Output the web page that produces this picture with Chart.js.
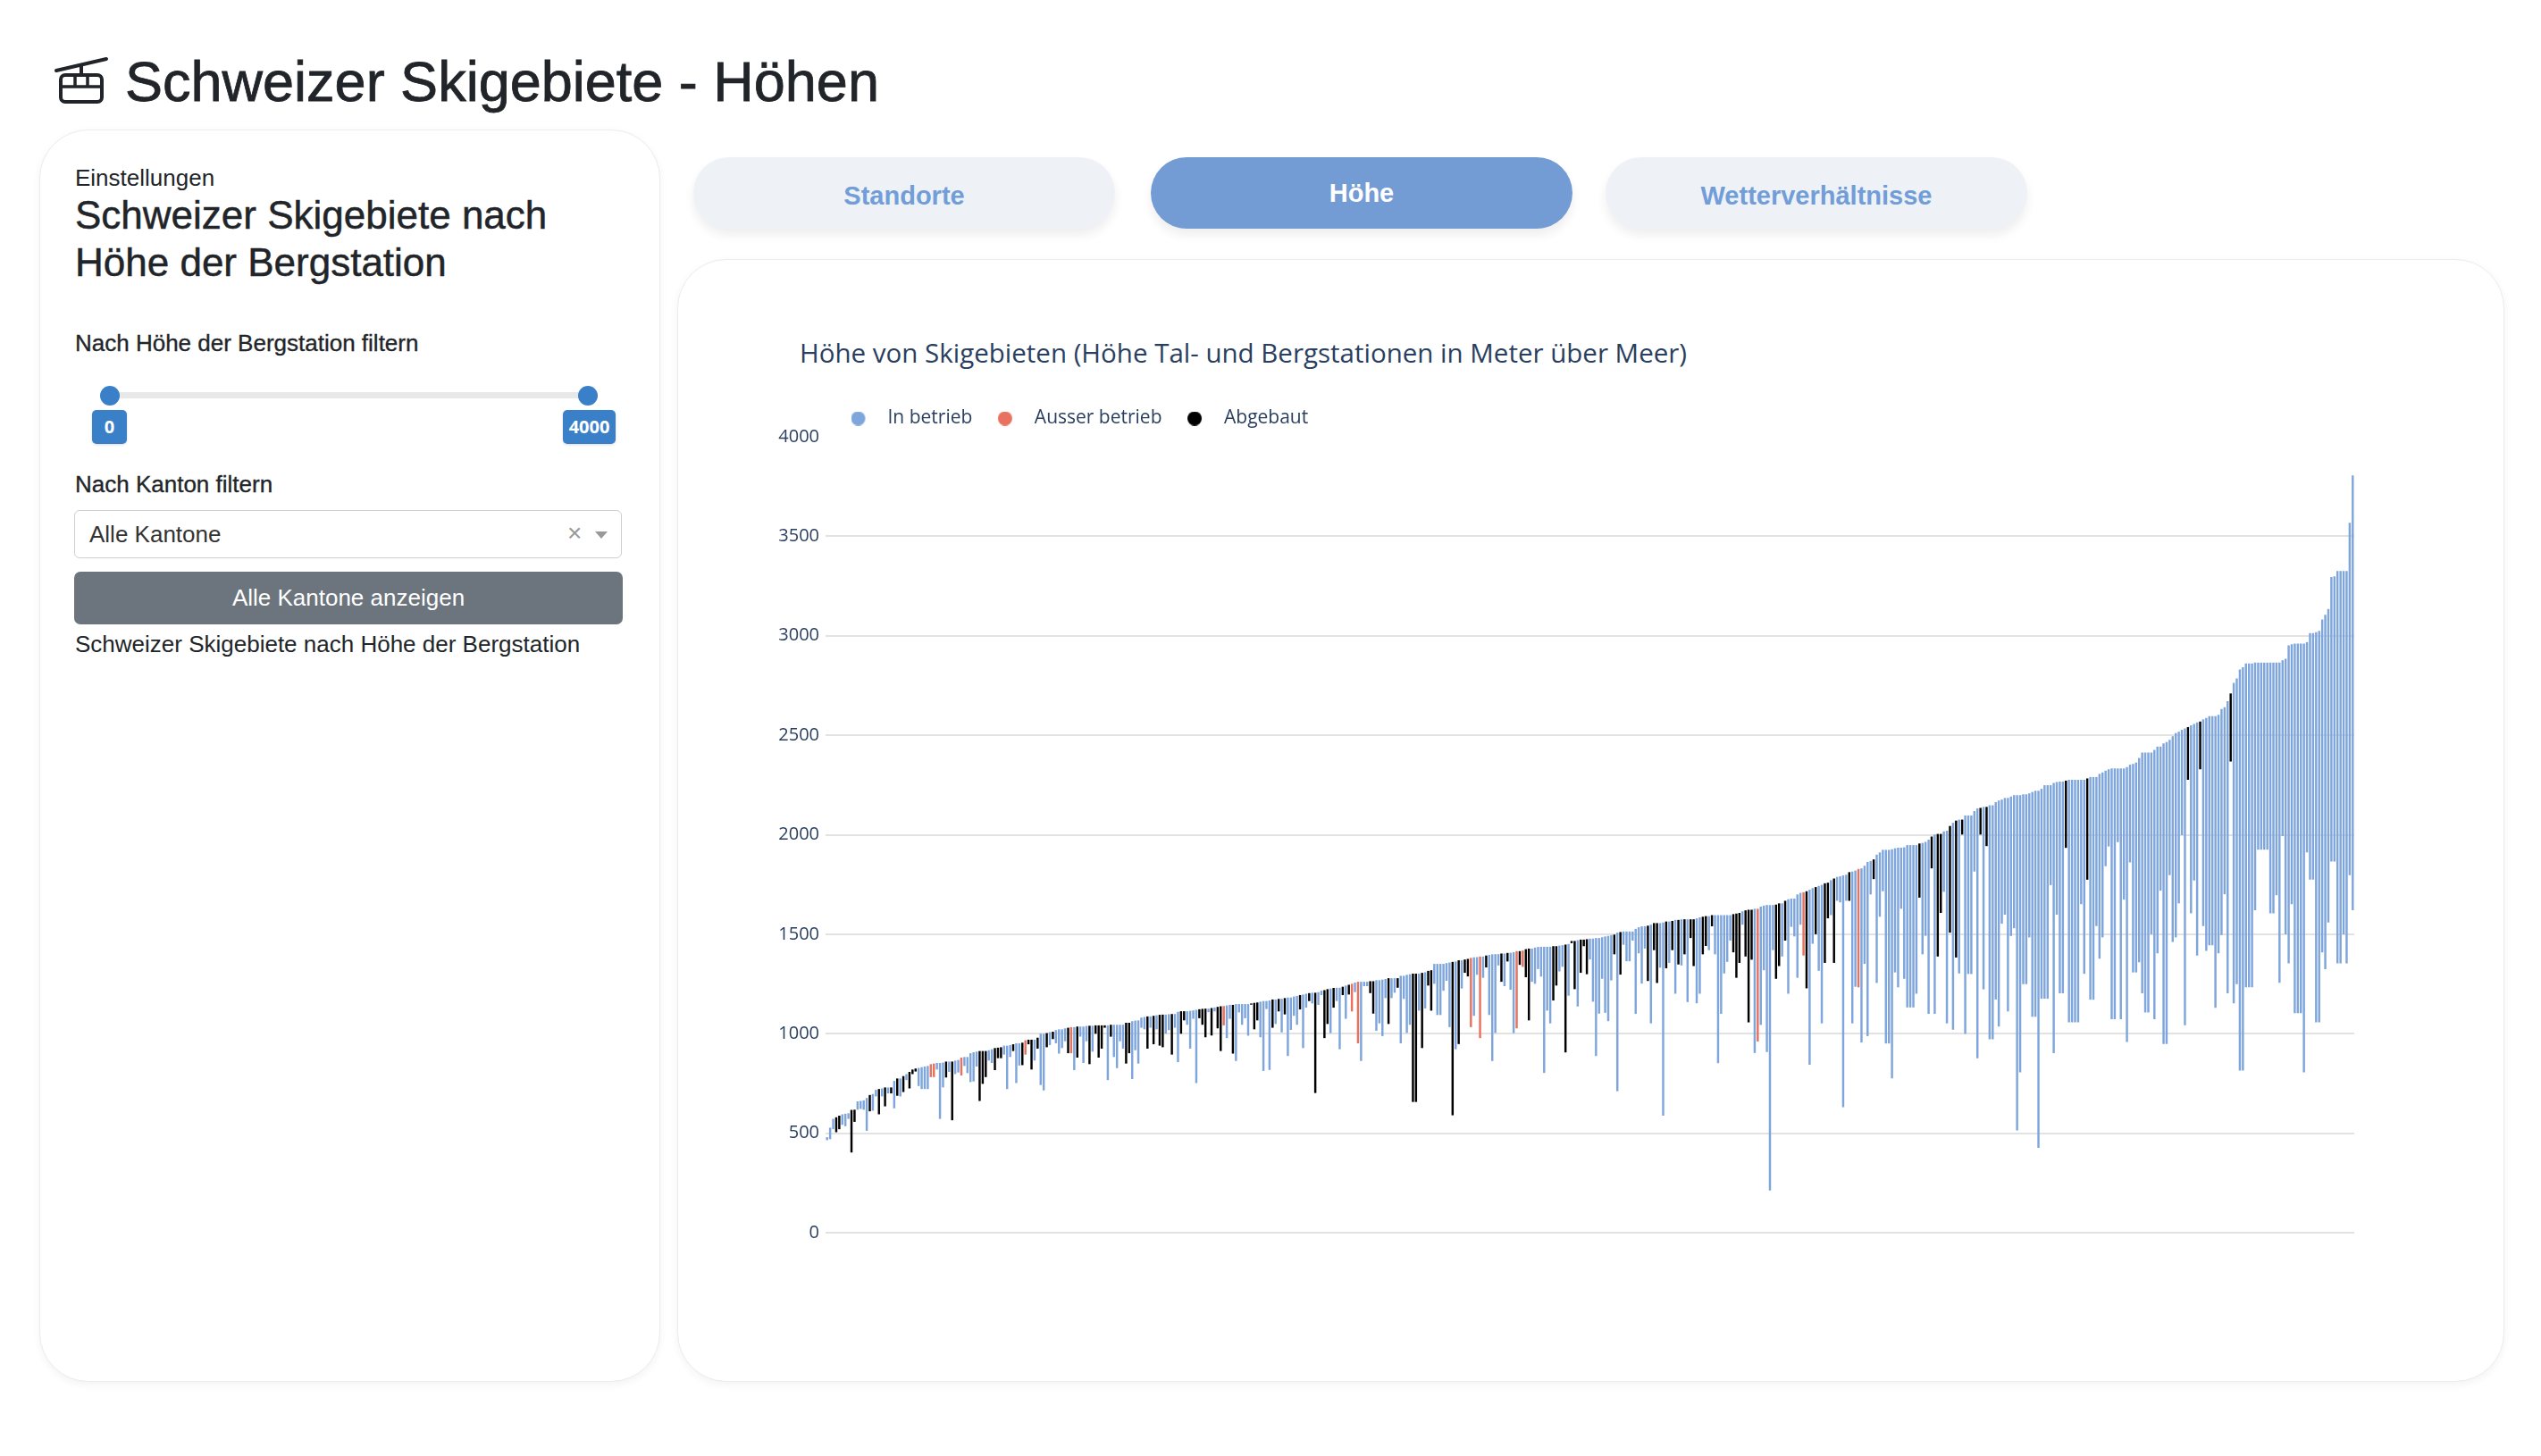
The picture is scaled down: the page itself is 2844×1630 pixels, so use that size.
<!DOCTYPE html>
<html lang="de">
<head>
<meta charset="utf-8">
<title>Schweizer Skigebiete - Höhen</title>
<script src="https://cdn.jsdelivr.net/npm/chart.js@4.4.1/dist/chart.umd.min.js"></script>
<style>
  html, body { margin: 0; padding: 0; background: #fff; }
  body {
    width: 2844px; height: 1630px; position: relative; overflow: hidden;
    font-family: "Liberation Sans", Arial, Helvetica, sans-serif; color: #212529;
  }
  .abs { position: absolute; white-space: nowrap; }
  .card {
    position: absolute; box-sizing: border-box; background: #fff; border: 1.5px solid #ececec;
    border-radius: 55px; box-shadow: 0 3px 10px rgba(0, 0, 0, 0.05);
  }
  .tab {
    position: absolute; top: 176px; width: 472px; height: 80px; border-radius: 40px;
    background: #eef2f6; color: #719dd8; font-weight: bold; font-size: 29px;
    text-align: center; line-height: 87px; box-shadow: 0 7px 12px rgba(0, 0, 0, 0.07);
  }
  .tab.active { background: #749cd4; color: #fff; line-height: 80px; }
  .label { font-size: 26px; line-height: 26px; }
  .medium { -webkit-text-stroke: 0.35px #212529; }
  .knob { position: absolute; width: 22px; height: 22px; border-radius: 50%; background: #3a80c9; top: 432px; }
  .badge {
    position: absolute; top: 459px; height: 38px; border-radius: 5px; background: #3a80c9;
    color: #fff; font: bold 20px "Open Sans", sans-serif; line-height: 38px; text-align: center;
    box-shadow: 0 1px 3px rgba(0, 0, 0, 0.15);
  }
  #chartTitle { font-family: "Open Sans", sans-serif; font-size: 29.5px; line-height: 32px; color: #2a3f5f; }
</style>
</head>
<body>

<svg class="abs" style="left:60px; top:62px;" width="62" height="56" viewBox="0 0 62 56">
  <line x1="3" y1="17" x2="59" y2="4" stroke="#212529" stroke-width="4" stroke-linecap="round"/>
  <line x1="31" y1="11" x2="31" y2="22" stroke="#212529" stroke-width="4"/>
  <rect x="8" y="22" width="46" height="30" rx="5" fill="none" stroke="#212529" stroke-width="4"/>
  <line x1="8" y1="35" x2="54" y2="35" stroke="#212529" stroke-width="3.5"/>
  <line x1="24" y1="22" x2="24" y2="35" stroke="#212529" stroke-width="3.5"/>
  <line x1="38" y1="22" x2="38" y2="35" stroke="#212529" stroke-width="3.5"/>
</svg>
<div class="abs" style="left:140px; top:60px; font-size:63px; line-height:63px; -webkit-text-stroke:0.8px #212529;">Schweizer Skigebiete - Höhen</div>

<!-- Einstellungen -->
<div class="card" style="left:44px; top:145px; width:695px; height:1402px;"></div>
<div class="abs label" style="left:84px; top:186px;">Einstellungen</div>
<div class="abs" style="left:84px; top:214px; font-size:44px; line-height:53px; -webkit-text-stroke:0.5px #212529;">Schweizer Skigebiete nach<br>Höhe der Bergstation</div>
<div class="abs label medium" style="left:84px; top:371px;">Nach Höhe der Bergstation filtern</div>
<div class="abs" style="left:123px; top:439px; width:535px; height:7px; background:#e8e8e8; border-radius:3px;"></div>
<div class="knob" style="left:112px;"></div>
<div class="knob" style="left:647px;"></div>
<div class="badge" style="left:103px; width:39px;">0</div>
<div class="badge" style="left:630px; width:59px;">4000</div>
<div class="abs label medium" style="left:84px; top:529px;">Nach Kanton filtern</div>
<div class="abs" style="left:83px; top:571px; width:611px; height:52px; border:1.5px solid #cfcfcf; border-radius:6px;"></div>
<div class="abs" style="left:100px; top:585px; font-size:26px; line-height:26px; color:#333;">Alle Kantone</div>
<div class="abs" style="left:635px; top:583px; font-size:28px; line-height:28px; color:#999;">×</div>
<div class="abs" style="left:666px; top:595px; width:0; height:0; border-left:7px solid transparent; border-right:7px solid transparent; border-top:8px solid #999;"></div>
<div class="abs" style="left:83px; top:640px; width:614px; height:59px; background:#6c757d; border-radius:7px; color:#fff; font-size:26px; line-height:59px; text-align:center;">Alle Kantone anzeigen</div>
<div class="abs label" style="left:84px; top:708px;">Schweizer Skigebiete nach Höhe der Bergstation</div>

<!-- Tabs -->
<div class="tab" style="left:776px;">Standorte</div>
<div class="tab active" style="left:1288px;">Höhe</div>
<div class="tab" style="left:1797px;">Wetterverhältnisse</div>

<!-- Diagramm -->
<div class="card" style="left:758px; top:290px; width:2045px; height:1257px;"></div>
<div id="chartTitle" class="abs" style="left:895px; top:379px;">Höhe von Skigebieten (Höhe Tal- und Bergstationen in Meter über Meer)</div>
<div class="abs" style="left:840px; top:420px; width:1795px; height:979px;">
  <canvas id="hoehenChart"></canvas>
</div>

<script>
// Bergstation (m ü. M.), aufsteigend sortiert
const bergstation = [
  480, 528, 572, 580, 588, 595, 598, 600, 617, 618,
  660, 662, 665, 677, 692, 697, 718, 722, 725, 730,
  730, 730, 763, 775, 775, 787, 797, 808, 820, 825,
  828, 832, 835, 838, 847, 850, 853, 853, 855, 860,
  860, 860, 865, 868, 880, 883, 883, 902, 907, 910,
  913, 913, 913, 917, 922, 928, 930, 932, 940, 940,
  943, 947, 952, 952, 955, 967, 970, 970, 970, 980,
  1000, 1000, 1003, 1008, 1010, 1018, 1022, 1022, 1027, 1030,
  1033, 1033, 1036, 1036, 1036, 1039, 1040, 1040, 1042, 1042,
  1042, 1042, 1042, 1045, 1045, 1045, 1045, 1045, 1055, 1055,
  1063, 1066, 1067, 1081, 1084, 1087, 1087, 1090, 1093, 1095,
  1096, 1096, 1098, 1099, 1099, 1110, 1113, 1113, 1113, 1115,
  1117, 1120, 1123, 1125, 1126, 1126, 1129, 1132, 1135, 1138,

  1139, 1142, 1145, 1145, 1149, 1149, 1149, 1149, 1149, 1152,
  1155, 1157, 1161, 1164, 1164, 1167, 1172, 1172, 1175, 1176,
  1179, 1182, 1182, 1187, 1190, 1194, 1197, 1201, 1204, 1206,
  1206, 1209, 1216, 1219, 1224, 1227, 1230, 1231, 1231, 1236,
  1242, 1246, 1251, 1257, 1261, 1261, 1261, 1261, 1264, 1264,
  1269, 1269, 1272, 1275, 1279, 1279, 1279, 1279, 1291, 1291,
  1296, 1299, 1302, 1302, 1302, 1306, 1309, 1316, 1319, 1351,
  1351, 1351, 1351, 1355, 1358, 1361, 1363, 1369, 1369, 1373,
  1376, 1381, 1384, 1385, 1388, 1388, 1393, 1396, 1399, 1400,
  1400, 1403, 1403, 1406, 1407, 1410, 1415, 1415, 1418, 1425,
  1428, 1428, 1433, 1436, 1437, 1437, 1437, 1437, 1440, 1440,
  1443, 1445, 1448, 1451, 1466, 1466, 1470, 1473, 1473, 1475,
  1478, 1478, 1481, 1481, 1485,

  1489, 1492, 1495, 1498, 1508, 1511, 1514, 1514, 1514, 1514,
  1527, 1535, 1540, 1540, 1543, 1548, 1556, 1556, 1556, 1559,
  1564, 1564, 1567, 1572, 1572, 1575, 1575, 1575, 1575, 1575,
  1580, 1585, 1588, 1591, 1591, 1596, 1596, 1596, 1596, 1596,
  1596, 1596, 1601, 1604, 1607, 1615, 1620, 1623, 1623, 1628,
  1628, 1639, 1644, 1647, 1647, 1647, 1649, 1655, 1655, 1668,
  1676, 1679, 1679, 1700, 1708, 1711, 1716, 1724, 1732, 1737,
  1743, 1748, 1756, 1759, 1772, 1780, 1788, 1791, 1796, 1799,
  1812, 1815, 1820, 1828, 1831, 1844, 1863, 1868, 1876, 1900,
  1911, 1924, 1924, 1924, 1927, 1932, 1935, 1935, 1937, 1948,
  1948, 1948, 1948, 1956, 1959, 1964, 1975, 1991, 2001, 2004,
  2004, 2017, 2020, 2044, 2060, 2071, 2076, 2076, 2097, 2097,
  2097, 2119, 2132, 2135, 2140, 2140, 2148, 2148, 2164, 2172, 2177,

  2185, 2185, 2192, 2199, 2199, 2199, 2203, 2203, 2208, 2215,
  2221, 2221, 2231, 2249, 2249, 2249, 2260, 2265, 2267, 2267,
  2272, 2276, 2276, 2276, 2276, 2276, 2276, 2283, 2290, 2290,
  2290, 2306, 2313, 2322, 2329, 2333, 2333, 2333, 2333, 2333,
  2340, 2352, 2356, 2363, 2386, 2413, 2413, 2413, 2413, 2427,
  2443, 2443, 2459, 2466, 2477, 2495, 2511, 2518, 2527, 2534,
  2541, 2550, 2557, 2564, 2569, 2580, 2587, 2596, 2596, 2596,
  2603, 2632, 2641, 2671, 2710, 2763, 2786, 2831, 2842, 2861,
  2861, 2861, 2865, 2865, 2865, 2865, 2865, 2865, 2865, 2865,
  2865, 2877, 2884, 2952, 2957, 2961, 2961, 2961, 2961, 2968,
  3014, 3014, 3018, 3025, 3082, 3105, 3135, 3295, 3299, 3326,
  3326, 3326, 3326, 3568, 3806
];

// Talstation (m ü. M.), gleiche Reihenfolge
const talstation = [
  465, 470, 520, 505, 520, 542, 535, 572, 403, 557,
  618, 622, 618, 512, 610, 613, 685, 595, 685, 635,
  700, 700, 625, 688, 685, 707, 767, 725, 797, 810,
  737, 722, 722, 722, 782, 782, 820, 572, 730, 780,
  808, 565, 797, 805, 790, 838, 802, 757, 760, 835,
  662, 748, 782, 865, 853, 817, 877, 877, 895, 722,
  883, 913, 752, 840, 842, 895, 947, 820, 865, 925,
  742, 715, 932, 943, 973, 952, 900, 928, 962, 902,
  902, 817, 880, 985, 853, 962, 847, 910, 1000, 880,
  925, 1030, 767, 985, 883, 827, 962, 925, 850, 902,
  772, 917, 850, 1030, 1022, 925, 1030, 947, 1022, 940,
  932, 1000, 1018, 895, 1030, 857, 1000, 1067, 1045, 925,
  1075, 752, 1078, 1045, 982, 1108, 991, 1112, 1027, 913,

  1042, 978, 1075, 900, 863, 1107, 1045, 1078, 990, 1146,
  1022, 1067, 982, 813, 1124, 818, 1030, 1049, 1112, 1007,
  1097, 888, 1019, 1090, 1045, 1122, 928, 1131, 1164, 1152,
  702, 1145, 1194, 978, 1049, 1003, 1131, 1164, 922, 1194,
  1075, 1197, 1112, 1209, 952, 863, 1239, 1239, 1204, 1101,
  1015, 1052, 988, 1179, 1049, 1179, 1206, 1231, 952, 1175,
  1004, 1045, 657, 657, 1116, 928, 1127, 1242, 1116, 1251,
  1094, 1094, 1216, 1266, 1033, 590, 922, 948, 1227, 1306,
  1288, 1033, 1090, 1296, 978, 1281, 1333, 1094, 863, 1004,
  1343, 1261, 1239, 1363, 1221, 1003, 1027, 1346, 1336, 1284,
  1067, 1261, 1251, 1325, 1287, 803, 1116, 1052, 1167, 1242,
  1313, 1336, 906, 1191, 1455, 1224, 1137, 1306, 1440, 1299,
  1373, 1161, 888, 1101, 1276,

  1105, 1063, 1268, 1399, 711, 1297, 1447, 1364, 1364, 1468,
  1100, 1404, 1252, 1428, 1265, 1052, 1420, 1255, 1332, 588,
  1329, 1356, 1420, 1201, 1348, 1343, 1399, 1159, 1481, 1340,
  1153, 1201, 1399, 1441, 1420, 1540, 1399, 852, 1100, 1303,
  1361, 1468, 1409, 1281, 1356, 1548, 1388, 1057, 1372, 903,
  961, 1044, 1319, 908, 212, 1420, 1276, 1340, 1388, 1468,
  1201, 1537, 1489, 1281, 1548, 1393, 1228, 844, 1452, 1500,
  1316, 1052, 1356, 1580, 1596, 1356, 1668, 1660, 631, 1668,
  1668, 1052, 1236, 1233, 956, 1351, 988, 1700, 1777, 1255,
  1588, 1716, 951, 951, 775, 1308, 1233, 1628, 1276, 1132,
  1132, 1132, 1201, 1684, 1399, 1492, 1100, 1831, 1100, 1388,
  1607, 1713, 1052, 1508, 1020, 1383, 1303, 2001, 999, 1300,
  1300, 1815, 876, 2001, 1223, 1943, 972, 972, 1172, 1036, 1553,

  1598, 1112, 1491, 1530, 514, 806, 1249, 1249, 1484, 1085,
  1085, 427, 1176, 1176, 1176, 1747, 902, 1598, 1203, 1203,
  1934, 1057, 1057, 1057, 1057, 1651, 1301, 1774, 1171, 1171,
  1541, 1377, 1484, 1842, 1941, 1073, 1073, 1963, 1073, 1674,
  959, 1861, 1308, 1308, 1359, 1203, 1107, 1107, 1500, 1073,
  1404, 1719, 948, 948, 1797, 1461, 1484, 1655, 1998, 1043,
  2276, 1605, 1770, 1393, 2329, 1541, 1416, 1445, 1445, 1130,
  1404, 1496, 1701, 1203, 2368, 1153, 1249, 815, 815, 1233,
  1233, 1233, 1621, 1925, 1925, 1925, 1925, 1605, 1605, 1696,
  1256, 1993, 1500, 1354, 1651, 1103, 1103, 1103, 806, 1911,
  1774, 1774, 1057, 1057, 1409, 1324, 1559, 1865, 1865, 1354,
  1354, 1500, 1354, 1797, 1621
];

// Status je Skigebiet: i = in Betrieb, a = ausser Betrieb, x = abgebaut
const status = (
  "iiixxiiixx" + "iiiixiixix" + "ixixixixxx" + "iiiiaaiiix" + "ixiiaiiiii" +
  "xxxiixxxii" + "ixiixaxxix" + "iixixiiiix" + "aixiiixixx" + "xxixiiiixx" +
  "iiiiixixix" + "xiixiixxii" + "iixxxixixx" +
  "aiixiiiiix" + "xxiiiixixi" + "xiiiixiixi" + "xiixxixiix" + "ixaiaiiixx" +
  "iiiixiixii" + "iixxixixxi" + "iiiiixixix" + "xaiiaixiii" + "ixixiiaxax" +
  "xiiiiiiixx" + "iixixxixxx" + "iiiii" +
  "iiixixiiii" + "iiiixixxii" + "xixixixixx" + "iixxixiiii" + "iixxxixxxi" +
  "aiiiiixxix" + "iiiiiaxiix" + "iixxixiiii" + "xiiaiiiixi" + "iiiiiiiiii" +
  "iiixiiixix" + "xiixixixii" + "iiixixiiiii" +
  "iiiiiiiiii" + "iiiiiiiiii" + "xiiiiiixii" + "iiiiiiiiii" + "iiiiiiiiii" +
  "iiiiiiiiii" + "xiiixiiiii" + "iiiixiiiii" + "iiiiiiiiii" + "iiiiiiiiii" +
  "iiiiiiiiii" + "iiiii"
).split("");

const statusCodes = ["i", "a", "x"];
const statusLabels = ["In betrieb", "Ausser betrieb", "Abgebaut"];
const statusColors = ["#7fa6dc", "#e8725e", "#000000"];

const yTicks = [0, 500, 1000, 1500, 2000, 2500, 3000, 3500, 4000];

const labels = bergstation.map((_, i) => "Skigebiet " + (i + 1));

// legend dot drawn left of the box centre, so the label keeps its distance
function legendDot(color) {
  const c = document.createElement("canvas");
  c.width = 40;
  c.height = 16;
  const g = c.getContext("2d");
  g.fillStyle = color;
  g.beginPath();
  g.arc(8, 8, 8, 0, Math.PI * 2);
  g.fill();
  return c;
}

const datasets = statusCodes.map((code, k) => ({
  label: statusLabels[k],
  data: bergstation.map((b, i) => (status[i] === code ? [talstation[i], b] : null)),
  backgroundColor: statusColors[k],
  borderWidth: 0,
  grouped: false,
  pointStyle: legendDot(statusColors[k]),
}));

Chart.defaults.font.family = "'Open Sans', sans-serif";

const ctx = document.getElementById("hoehenChart").getContext("2d");
new Chart(ctx, {
  type: "bar",
  data: { labels, datasets },
  options: {
    responsive: true,
    maintainAspectRatio: false,
    animation: false,
    layout: { padding: { bottom: 8 } },
    plugins: {
      tooltip: { enabled: false },
      legend: {
        position: "top",
        align: "start",
        fullSize: false,
        maxHeight: 75,
        labels: {
          usePointStyle: true,
          boxHeight: 16,
          padding: 38,
          color: "#2a3f5f",
          font: { size: 21 },
        },
      },
    },
    scales: {
      x: { display: false },
      y: {
        min: 0,
        max: 4000,
        afterBuildTicks: (scale) => { scale.ticks = yTicks.map((v) => ({ value: v })); },
        afterFit: (scale) => { scale.width = 84; },
        border: { display: false },
        grid: {
          drawTicks: false,
          lineWidth: 2,
          color: (c) => (c.tick && c.tick.value === 4000 ? "rgba(0,0,0,0)" : "#e2e2e2"),
        },
        ticks: {
          padding: 7,
          color: "#2a3f5f",
          font: { size: 20 },
          callback: (v) => String(v),
        },
      },
    },
  },
});
</script>
</body>
</html>
